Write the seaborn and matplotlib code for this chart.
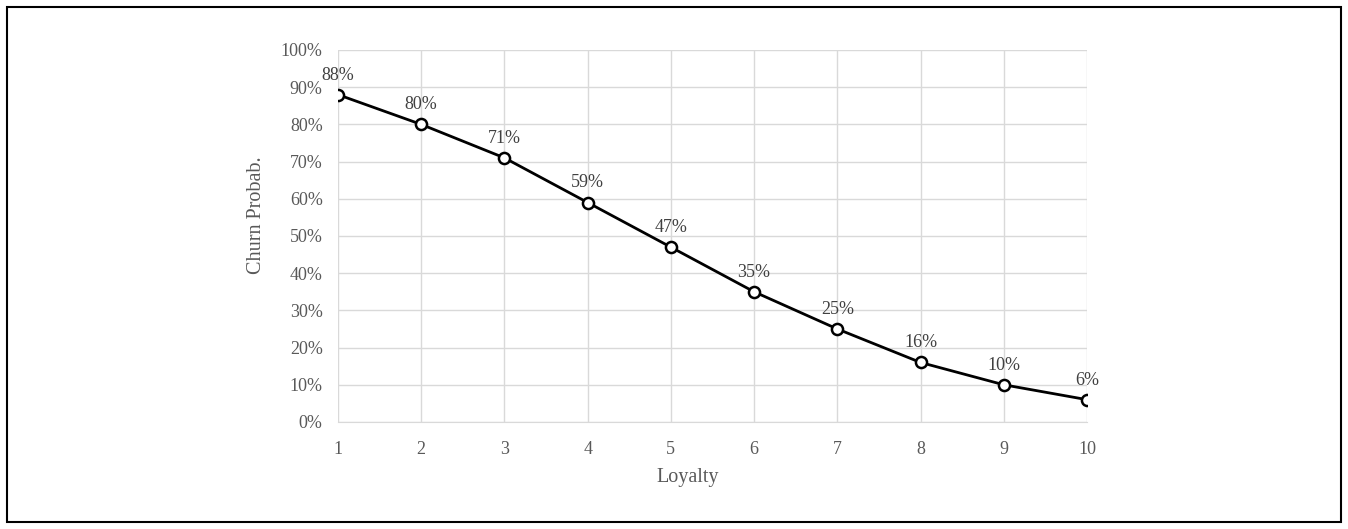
import matplotlib
matplotlib.use("Agg")
import matplotlib.pyplot as plt
import seaborn as sns
import pandas as pd
from matplotlib.patches import Rectangle
from matplotlib.ticker import PercentFormatter

# data
loyalty = [1, 2, 3, 4, 5, 6, 7, 8, 9, 10]
churn = [88, 80, 71, 59, 47, 35, 25, 16, 10, 6]

df = pd.DataFrame({"Loyalty": loyalty, "Churn Probab.": churn})

sns.set_style("white")
plt.rcParams['font.family'] = ['Liberation Serif', 'DejaVu Serif']

fig = plt.figure(figsize=(13.48, 5.29), dpi=100)
ax = fig.add_axes([0.2507, 0.2023, 0.8064 - 0.2507, 0.9055 - 0.2023])

sns.lineplot(data=df, x="Loyalty", y="Churn Probab.", ax=ax, color="black",
             linewidth=2, marker="o", markersize=8, markerfacecolor="white",
             markeredgecolor="black", markeredgewidth=1.8, zorder=3)

for x, y in zip(loyalty, churn):
    ax.annotate(f"{y}%", (x, y), xytext=(0, 8), textcoords="offset points",
                ha="center", va="bottom", fontsize=13, color="#404040")

ax.set_xlim(1, 10)
ax.set_ylim(0, 100)
ax.set_xticks(loyalty)
ax.set_yticks(range(0, 101, 10))
ax.yaxis.set_major_formatter(PercentFormatter(decimals=0))
ax.grid(True, color="#d9d9d9", linewidth=1)
ax.set_axisbelow(True)
for s in ["top", "right", "left"]:
    ax.spines[s].set_visible(False)
ax.spines["bottom"].set_color("#d9d9d9")
ax.tick_params(axis="y", length=0, labelsize=13, labelcolor="#595959", pad=11)
ax.tick_params(axis="x", length=0, labelsize=13, labelcolor="#595959", pad=14)
ax.set_xlabel("Loyalty", fontsize=14.5, color="#595959")
ax.set_ylabel("Churn Probab.", fontsize=14.5, color="#595959")
ax.xaxis.set_label_coords(0.467, -0.124)
ax.yaxis.set_label_coords(-0.096, 0.556)

fig.patches.append(Rectangle((7 / 1348, 1 - 522 / 529), 1334 / 1348, 515 / 529,
                             transform=fig.transFigure, fill=False,
                             edgecolor="black", linewidth=1.5))

plt.savefig("out.png", dpi=100)
plt.close()
